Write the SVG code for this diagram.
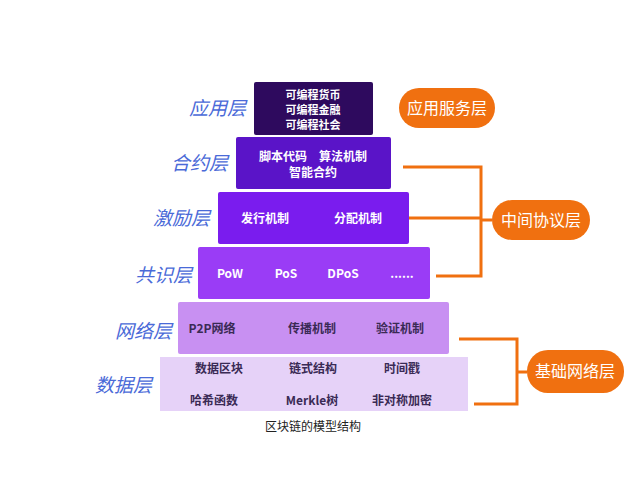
<svg xmlns="http://www.w3.org/2000/svg" width="640" height="480" viewBox="0 0 640 480">
<style>
.t{font-family:"Noto Sans CJK SC","Noto Sans",sans-serif;font-weight:bold;font-size:12px;fill:#fff;text-anchor:middle}
.s{font-size:11px}
.d{fill:#3a2a55}
.l{font-family:"Noto Sans CJK SC",sans-serif;font-size:19px;fill:#4a6ad8;text-anchor:end;font-style:italic}
.b{font-family:"Noto Sans CJK SC",sans-serif;font-size:16px;fill:#fff;text-anchor:middle}
.c{stroke:#f07010;stroke-width:3;fill:none}
</style>
<rect width="640" height="480" fill="#fff"/>
<g id="app"><rect x="254" y="82" width="119" height="53" rx="2" fill="#2e0a5e"/>
<text class="t s" x="313" y="99">可编程货币</text><text class="t s" x="313" y="114">可编程金融</text><text class="t s" x="313" y="129">可编程社会</text>
<text class="l" x="246" y="115">应用层</text></g>
<g id="contract"><rect x="236" y="137" width="155" height="52" rx="2" fill="#5a14c8"/>
<text class="t" x="313" y="161">脚本代码　算法机制</text><text class="t" x="313" y="177">智能合约</text>
<text class="l" x="228" y="170">合约层</text></g>
<g id="incentive"><rect x="218" y="192" width="191" height="52" rx="2" fill="#7a1cee"/>
<text class="t" x="265" y="223">发行机制</text><text class="t" x="358" y="223">分配机制</text>
<text class="l" x="210" y="225">激励层</text></g>
<g id="consensus"><rect x="198" y="247" width="232" height="52" rx="2" fill="#9a3cf6"/>
<text class="t" x="230" y="278">PoW</text><text class="t" x="286" y="278">PoS</text><text class="t" x="343" y="278">DPoS</text><text class="t" x="402" y="278">......</text>
<text class="l" x="192" y="282">共识层</text></g>
<g id="network"><rect x="178" y="302" width="271" height="52" rx="2" fill="#c890f2"/>
<text class="t d" x="212" y="333">P2P网络</text><text class="t d" x="312" y="333">传播机制</text><text class="t d" x="400" y="333">验证机制</text>
<text class="l" x="172" y="338">网络层</text></g>
<g id="data"><rect x="160" y="357" width="308" height="54" fill="#e6d2f8"/>
<text class="t d" x="219" y="373">数据区块</text><text class="t d" x="313" y="373">链式结构</text><text class="t d" x="402" y="373">时间戳</text>
<text class="t d" x="214" y="405">哈希函数</text><text class="t d" x="312" y="405">Merkle树</text><text class="t d" x="402" y="405">非对称加密</text>
<text class="l" x="152" y="392">数据层</text></g>
<g id="connectors">
<path class="c" d="M403 167H481V276H436M409 218H481M481 220H492"/>
<path class="c" d="M459 339H517V404H474M517 372H527"/>
</g>
<g id="svc"><rect x="399" y="88" width="96" height="40" rx="20" fill="#f07010"/><text class="b" x="447" y="114">应用服务层</text></g>
<g id="mid"><rect x="492" y="200" width="98" height="40" rx="20" fill="#f07010"/><text class="b" x="541" y="226">中间协议层</text></g>
<g id="base"><rect x="527" y="350" width="97" height="43" rx="21" fill="#f07010"/><text class="b" x="575" y="377">基础网络层</text></g>
<text x="313" y="431" font-family="Noto Sans CJK SC,sans-serif" font-size="12" fill="#222" text-anchor="middle">区块链的模型结构</text>
</svg>
